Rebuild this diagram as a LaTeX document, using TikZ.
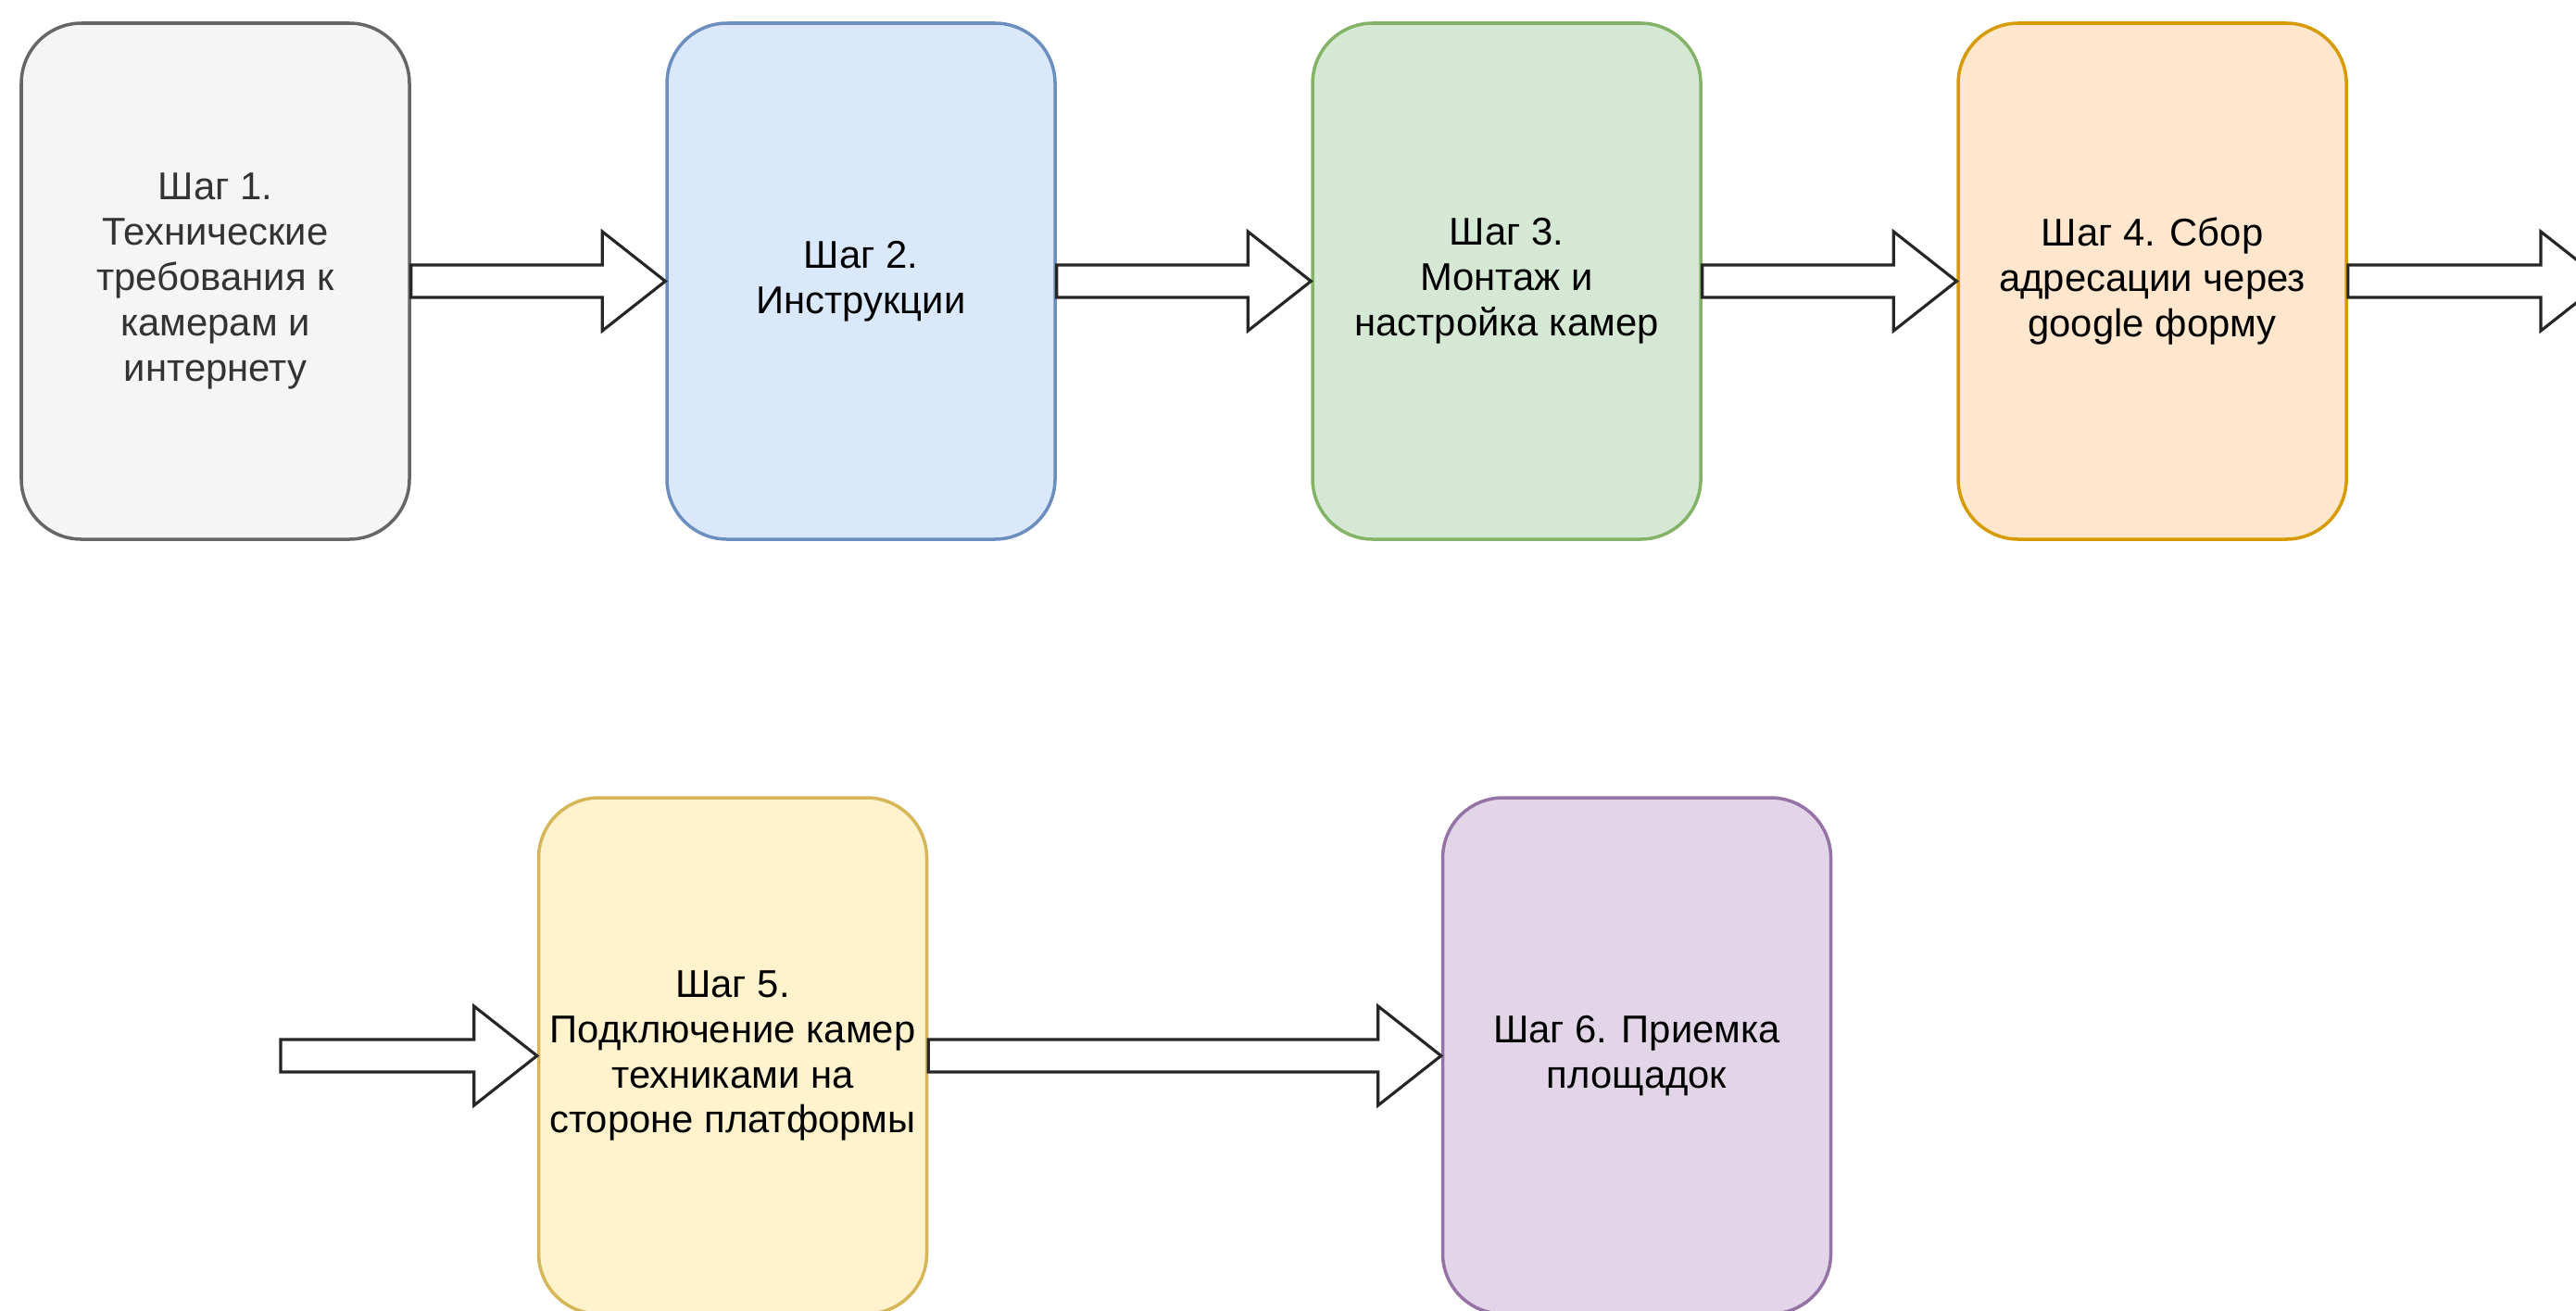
\documentclass[tikz,border=0pt]{standalone}
\usepackage{fontspec}
\setmainfont{Liberation Sans}
\usepackage{xcolor}
\usetikzlibrary{positioning,calc}

\definecolor{grayfill}{HTML}{F5F5F5}
\definecolor{grayline}{HTML}{666666}
\definecolor{graytext}{HTML}{333333}
\definecolor{bluefill}{HTML}{DAE8FC}
\definecolor{blueline}{HTML}{6C8EBF}
\definecolor{greenfill}{HTML}{D5E8D4}
\definecolor{greenline}{HTML}{82B366}
\definecolor{orangefill}{HTML}{FFE6CC}
\definecolor{orangeline}{HTML}{D79B00}
\definecolor{yellowfill}{HTML}{FFF2CC}
\definecolor{yellowline}{HTML}{D6B656}
\definecolor{purplefill}{HTML}{E1D5E7}
\definecolor{purpleline}{HTML}{9673A6}

\newcommand{\flowarrow}[2]{\draw[flexarrow] let \p1 = (#1), \p2 = (#2) in
	(\x1, \y1 + 1.75mm) -- (\x2 - 6.8mm, \y1 + 1.75mm) -- (\x2 - 6.8mm, \y1 + 5.35mm)
	-- (\x2, \y1) -- (\x2 - 6.8mm, \y1 - 5.35mm) -- (\x2 - 6.8mm, \y1 - 1.75mm)
	-- (\x1, \y1 - 1.75mm) -- cycle;}

\begin{document}
\begin{tikzpicture}[
	stepbox/.style = {rectangle, rounded corners = 0.65cm, line width = 1pt,
		minimum width = 4.19cm, minimum height = 5.57cm, align = center,
		inner sep = 2pt, font = \fontsize{11.9pt}{13.9pt}\selectfont},
	flexarrow/.style = {draw = black!85, fill = white, line width = 0.9pt, line join = miter}
	]
			\path[use as bounding box, fill = white] (0, 0) rectangle (27.81, -14.14);
			\node[stepbox, draw = grayline, fill = grayfill, text = graytext] (s1) at (2.325, -3.035)
				{Шаг 1.\\Технические\\требования к\\камерам и\\интернету};
			\node[stepbox, draw = blueline, fill = bluefill, right = 2.745cm of s1] (s2)
				{Шаг 2.\\Инструкции};
			\node[stepbox, draw = greenline, fill = greenfill, right = 2.745cm of s2] (s3)
				{Шаг 3.\\Монтаж и\\настройка камер};
			\node[stepbox, draw = orangeline, fill = orangefill, right = 2.745cm of s3] (s4)
				{Шаг 4. Сбор\\адресации через\\google форму};
			\node[stepbox, draw = yellowline, fill = yellowfill] (s5) at (7.91, -11.395)
				{Шаг 5.\\Подключение камер\\техниками на\\стороне платформы};
			\node[stepbox, draw = purpleline, fill = purplefill, right = 5.535cm of s5] (s6)
				{Шаг 6. Приемка\\площадок};
			\coordinate (out4) at (28.11, -3.035);
			\coordinate (in5) at (3.03, -11.395);
			\flowarrow{s1.east}{s2.west}
			\flowarrow{s2.east}{s3.west}
			\flowarrow{s3.east}{s4.west}
			\flowarrow{s4.east}{out4}
			\flowarrow{in5}{s5.west}
			\flowarrow{s5.east}{s6.west}
\end{tikzpicture}
\end{document}
